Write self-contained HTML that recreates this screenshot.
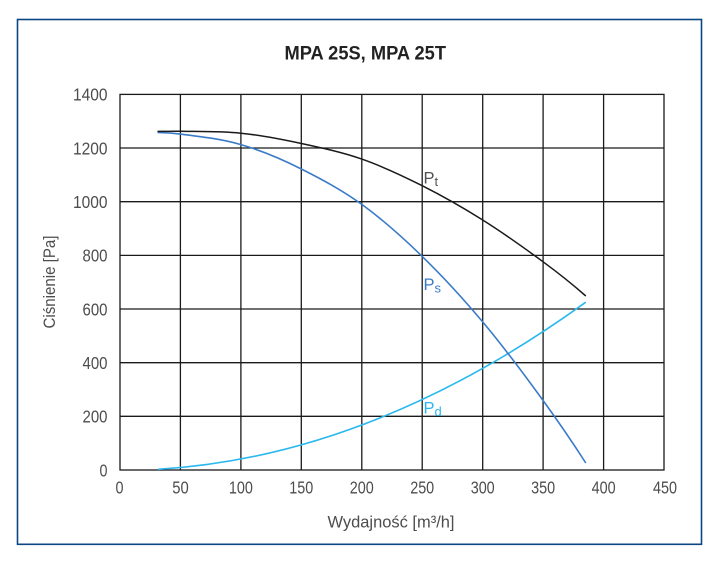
<!DOCTYPE html>
<html>
<head>
<meta charset="utf-8">
<style>
  html, body { margin: 0; padding: 0; background: #ffffff; }
  svg { display: block; }
  text { font-family: "Liberation Sans", "DejaVu Sans", sans-serif; }
</style>
</head>
<body>
<svg width="722" height="572" viewBox="0 0 722 572" xmlns="http://www.w3.org/2000/svg">
  <rect x="0" y="0" width="722" height="572" fill="#ffffff"/>
  <!-- outer frame -->
  <rect x="17.5" y="19.5" width="684" height="524.8" fill="none" stroke="#0b4684" stroke-width="1.6"/>

  <!-- title -->
  <text x="284.5" y="59.5" font-size="19" font-weight="bold" fill="#222222" textLength="161.5" lengthAdjust="spacingAndGlyphs">MPA 25S, MPA 25T</text>

  <!-- grid -->
  <g stroke="#1a1a1a" stroke-width="1.3" fill="none">
    <rect x="120" y="94.4" width="544" height="375.6"/>
    <line x1="180.4" y1="94.4" x2="180.4" y2="470"/>
    <line x1="240.9" y1="94.4" x2="240.9" y2="470"/>
    <line x1="301.3" y1="94.4" x2="301.3" y2="470"/>
    <line x1="361.8" y1="94.4" x2="361.8" y2="470"/>
    <line x1="422.2" y1="94.4" x2="422.2" y2="470"/>
    <line x1="482.7" y1="94.4" x2="482.7" y2="470"/>
    <line x1="543.1" y1="94.4" x2="543.1" y2="470"/>
    <line x1="603.6" y1="94.4" x2="603.6" y2="470"/>
    <line x1="120" y1="416.3" x2="664" y2="416.3"/>
    <line x1="120" y1="362.7" x2="664" y2="362.7"/>
    <line x1="120" y1="309.0" x2="664" y2="309.0"/>
    <line x1="120" y1="255.4" x2="664" y2="255.4"/>
    <line x1="120" y1="201.7" x2="664" y2="201.7"/>
    <line x1="120" y1="148.0" x2="664" y2="148.0"/>
  </g>

  <!-- y tick labels (right edge at 107.5) -->
  <g font-size="17.5" fill="#4d4d4d" lengthAdjust="spacingAndGlyphs">
    <text x="99.5" y="476.3" textLength="8" lengthAdjust="spacingAndGlyphs">0</text>
    <text x="82.5" y="422.6" textLength="25" lengthAdjust="spacingAndGlyphs">200</text>
    <text x="82.5" y="369.0" textLength="25" lengthAdjust="spacingAndGlyphs">400</text>
    <text x="82.5" y="315.3" textLength="25" lengthAdjust="spacingAndGlyphs">600</text>
    <text x="82.5" y="261.7" textLength="25" lengthAdjust="spacingAndGlyphs">800</text>
    <text x="73" y="208.0" textLength="34.5" lengthAdjust="spacingAndGlyphs">1000</text>
    <text x="73" y="154.3" textLength="34.5" lengthAdjust="spacingAndGlyphs">1200</text>
    <text x="73" y="100.7" textLength="34.5" lengthAdjust="spacingAndGlyphs">1400</text>
  </g>

  <!-- x tick labels -->
  <g font-size="17.5" fill="#4d4d4d">
    <text x="115.5" y="493.5" textLength="8" lengthAdjust="spacingAndGlyphs">0</text>
    <text x="172.2" y="493.5" textLength="16.5" lengthAdjust="spacingAndGlyphs">50</text>
    <text x="228.9" y="493.5" textLength="24" lengthAdjust="spacingAndGlyphs">100</text>
    <text x="289.3" y="493.5" textLength="24" lengthAdjust="spacingAndGlyphs">150</text>
    <text x="349.8" y="493.5" textLength="24" lengthAdjust="spacingAndGlyphs">200</text>
    <text x="410.2" y="493.5" textLength="24" lengthAdjust="spacingAndGlyphs">250</text>
    <text x="470.7" y="493.5" textLength="24" lengthAdjust="spacingAndGlyphs">300</text>
    <text x="531.1" y="493.5" textLength="24" lengthAdjust="spacingAndGlyphs">350</text>
    <text x="591.6" y="493.5" textLength="24" lengthAdjust="spacingAndGlyphs">400</text>
    <text x="653" y="493.5" textLength="24" lengthAdjust="spacingAndGlyphs">450</text>
  </g>

  <!-- axis titles -->
  <text transform="translate(55,328.5) rotate(-90)" font-size="16.5" fill="#4d4d4d" textLength="93" lengthAdjust="spacingAndGlyphs">Ciśnienie [Pa]</text>
  <text x="327.5" y="527.5" font-size="17" fill="#4d4d4d" textLength="127" lengthAdjust="spacingAndGlyphs">Wydajność [m³/h]</text>

  <!-- Pd curve -->
  <path d="M158.1,469.3 Q371.9,456.5 585.8,302.2" fill="none" stroke="#2bb8ee" stroke-width="1.6"/>

  <!-- Ps curve -->
  <path d="M157.5,132.5 C165.1,132.7 172.8,133.2 180.4,134.1
           C200.6,136.6 220.7,138.8 240.9,144.6
           C261.0,150.4 281.2,158.8 301.3,169.0
           C321.5,179.2 341.6,189.8 361.8,204.4
           C381.9,219.0 402.1,236.8 422.2,256.4
           C442.4,276.0 462.5,297.9 482.7,321.9
           C502.8,345.9 523.0,372.8 543.1,400.5
           C557.3,420.1 571.6,440.9 585.8,463.0"
        fill="none" stroke="#3a7bc8" stroke-width="1.6"/>

  <!-- Pt curve -->
  <path d="M157.5,131.4 C165.1,131.4 172.8,131.2 180.4,131.3
           C200.6,131.6 220.7,131.2 240.9,133.2
           C261.0,135.2 281.2,139.2 301.3,143.5
           C321.5,147.8 341.6,152.1 361.8,159.1
           C381.9,166.1 402.1,175.6 422.2,185.7
           C442.4,195.9 462.5,207.3 482.7,220.0
           C502.8,232.7 523.0,247.0 543.1,261.8
           C557.3,272.2 571.6,283.5 585.8,296.0"
        fill="none" stroke="#1a1a1a" stroke-width="1.5"/>

  <!-- curve labels -->
  <text x="423.5" y="183.5" font-size="16.5" fill="#4f5358">P<tspan font-size="13" dy="2.5">t</tspan></text>
  <text x="423.5" y="290.2" font-size="16.5" fill="#3a7bc8">P<tspan font-size="13" dy="2.5">s</tspan></text>
  <text x="423.5" y="413.5" font-size="16.5" fill="#2bb8ee">P<tspan font-size="13" dy="2.5">d</tspan></text>
</svg>
</body>
</html>
